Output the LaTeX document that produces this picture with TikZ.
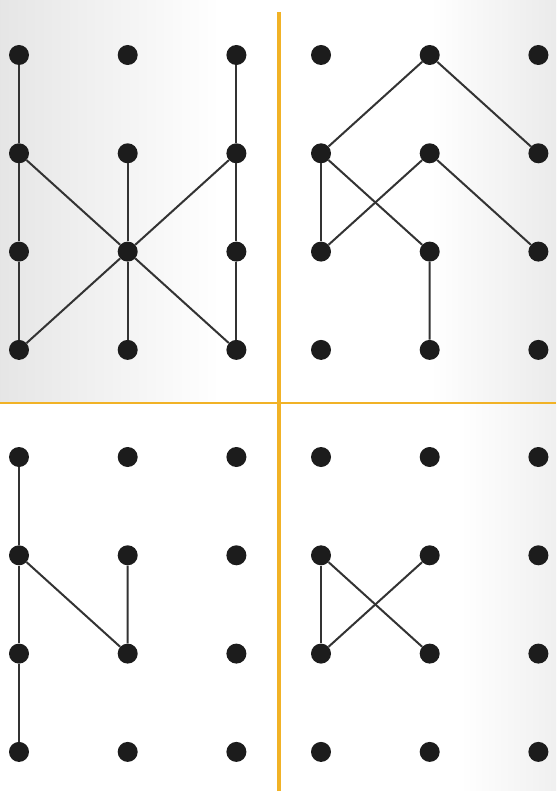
\documentclass[tikz,border=0pt]{standalone}
\usepackage{tikz}
\usetikzlibrary{positioning}

\definecolor{divider}{RGB}{241,178,38}
\definecolor{pinblack}{RGB}{28,28,28}

\begin{document}
\begin{tikzpicture}[x=1pt, y=-1pt,
    gridpt/.style={circle, fill=pinblack, inner sep=0pt, minimum size=20pt},
    link/.style={line width=2pt, pinblack!90}]

  \useasboundingbox (0,0) rectangle (556,791);

  % Paper shading
  \shade[left color=gray!20, right color=white] (0,0) rectangle (220,403);
  \shade[left color=white, right color=gray!16] (430,0) rectangle (556,403);
  \shade[left color=white, right color=gray!12] (460,403) rectangle (556,791);

  % Dividers
  \draw[divider, line width=3.5pt] (279,12) -- (279,791);
  \draw[divider, line width=2.8pt] (0,403) -- (556,403);

  % Dot grids
  \foreach \q/\ox/\oy in {tl/19/55, tr/321/55, bl/19/457, br/321/457}
    \foreach \c in {0,1,2}
      \foreach \r in {0,1,2,3}
        \node[gridpt] (\q\c\r) at ({\ox+108.7*\c},{\oy+98.3*\r}) {};

  % Top left
  \draw[link] (tl00) -- (tl01) -- (tl02) -- (tl03);
  \draw[link] (tl01) -- (tl12) -- (tl23);
  \draw[link] (tl11) -- (tl12) -- (tl13);
  \draw[link] (tl20) -- (tl21) -- (tl22) -- (tl23);
  \draw[link] (tl21) -- (tl12) -- (tl03);

  % Top right
  \draw[link] (tr01) -- (tr10) -- (tr21);
  \draw[link] (tr01) -- (tr02);
  \draw[link] (tr02) -- (tr11) -- (tr22);
  \draw[link] (tr01) -- (tr12) -- (tr13);

  % Bottom left
  \draw[link] (bl00) -- (bl01) -- (bl02) -- (bl03);
  \draw[link] (bl01) -- (bl12) -- (bl11);

  % Bottom right
  \draw[link] (br01) -- (br02);
  \draw[link] (br01) -- (br12);
  \draw[link] (br02) -- (br11);

\end{tikzpicture}
\end{document}
